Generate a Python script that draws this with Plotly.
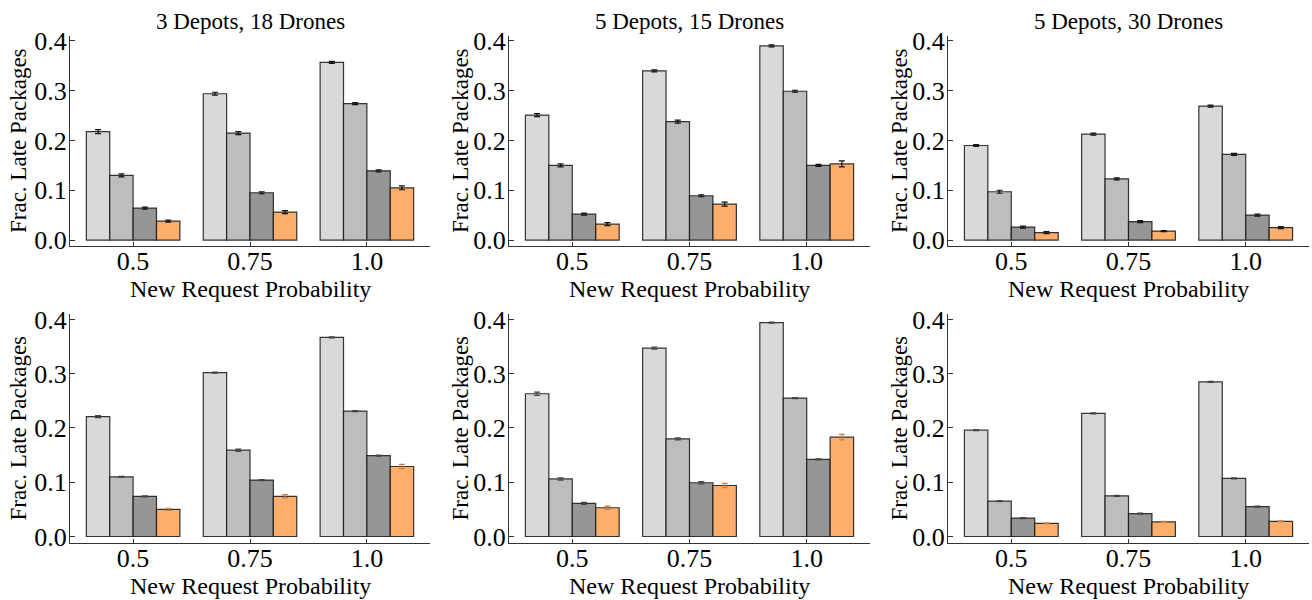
import plotly.graph_objects as go

probs = ["0.5", "0.75", "1.0"]
titles = ["3 Depots, 18 Drones", "5 Depots, 15 Drones", "5 Depots, 30 Drones"]

# panel values: [series][probability]
tl_vals = [[0.218, 0.294, 0.357], [0.130, 0.215, 0.274], [0.064, 0.095, 0.139], [0.038, 0.056, 0.105]]
tl_errs = [[0.004, 0.003, 0.002], [0.003, 0.003, 0.002], [0.002, 0.002, 0.002], [0.002, 0.003, 0.004]]
tm_vals = [[0.251, 0.340, 0.390], [0.150, 0.238, 0.299], [0.052, 0.089, 0.150], [0.032, 0.072, 0.153]]
tm_errs = [[0.003, 0.002, 0.002], [0.003, 0.003, 0.002], [0.002, 0.002, 0.002], [0.003, 0.004, 0.006]]
tr_vals = [[0.190, 0.213, 0.269], [0.097, 0.123, 0.172], [0.026, 0.037, 0.050], [0.015, 0.018, 0.025]]
tr_errs = [[0.002, 0.002, 0.002], [0.003, 0.002, 0.002], [0.002, 0.002, 0.002], [0.002, 0.001, 0.002]]
bl_vals = [[0.221, 0.302, 0.367], [0.110, 0.159, 0.231], [0.074, 0.104, 0.149], [0.050, 0.074, 0.129]]
bl_errs = [[0.002, 0.001, 0.001], [0.001, 0.002, 0.001], [0.001, 0.001, 0.001], [0.002, 0.003, 0.004]]
bm_vals = [[0.263, 0.347, 0.394], [0.106, 0.180, 0.255], [0.061, 0.099, 0.142], [0.053, 0.094, 0.183]]
bm_errs = [[0.003, 0.002, 0.001], [0.002, 0.002, 0.001], [0.002, 0.002, 0.001], [0.003, 0.004, 0.005]]
br_vals = [[0.196, 0.227, 0.285], [0.065, 0.075, 0.107], [0.034, 0.042, 0.055], [0.024, 0.027, 0.028]]
br_errs = [[0.001, 0.001, 0.001], [0.001, 0.001, 0.001], [0.001, 0.001, 0.001], [0.001, 0.001, 0.001]]

colors = ["#d9d9d9", "#bdbdbd", "#969696", "#fdae6b"]
FONT = "Liberation Serif"

panels = [
    (tl_vals, tl_errs, 0, 0), (tm_vals, tm_errs, 0, 1), (tr_vals, tr_errs, 0, 2),
    (bl_vals, bl_errs, 1, 0), (bm_vals, bm_errs, 1, 1), (br_vals, br_errs, 1, 2),
]

W, H = 1312, 600
col_px = [(70, 430), (509, 870), (948, 1309)]
row_px = [(36, 246), (314, 543)]

fig = go.Figure()
layout = {}
for k, (vals, errs, r, c) in enumerate(panels):
    idx = k + 1
    xa = "x" if idx == 1 else f"x{idx}"
    ya = "y" if idx == 1 else f"y{idx}"
    for s in range(4):
        ecol = "#111111" if r == 0 else ("#444444" if s < 3 else "#c8824a")
        fig.add_trace(go.Bar(
            x=[0, 1, 2], y=vals[s],
            error_y=dict(type="data", array=errs[s], color=ecol, thickness=1.2, width=3),
            marker=dict(color=colors[s], line=dict(color="rgba(20,20,20,0.85)", width=1.2)),
            xaxis=xa, yaxis=ya, showlegend=False, name=f"series {s+1}",
        ))
    x0, x1 = col_px[c]
    y0, y1 = row_px[r]
    layout[f"xaxis{idx if idx > 1 else ''}"] = dict(
        domain=[x0 / W, x1 / W], anchor=ya, range=[-0.54, 2.54], automargin=False,
        tickmode="array", tickvals=[0, 1, 2], ticktext=probs,
        ticks="inside", ticklen=4, tickcolor="#333", showline=True, linecolor="#333",
        linewidth=1, showgrid=False, zeroline=False, ticklabelstandoff=-8,
        tickfont=dict(family=FONT, size=26, color="black"),
    )
    layout[f"yaxis{idx if idx > 1 else ''}"] = dict(
        domain=[1 - y1 / H, 1 - y0 / H], anchor=xa, range=[-0.012, 0.41], automargin=False,
        tickmode="array", tickvals=[0, 0.1, 0.2, 0.3, 0.4],
        ticktext=["0.0", "0.1", "0.2", "0.3", "0.4"],
        ticks="inside", ticklen=5, tickcolor="#333", showline=True, linecolor="#333",
        linewidth=1, showgrid=False, zeroline=False, ticklabelstandoff=-3,
        tickfont=dict(family=FONT, size=26, color="black"),
    )

annotations = []
ylab_x = [18, 460, 899]
for c in range(3):
    x0, x1 = col_px[c]
    cx = (x0 + x1) / 2 / W
    annotations.append(dict(text=titles[c], x=cx, y=1 - 21 / H, xref="paper", yref="paper",
                            showarrow=False, font=dict(family=FONT, size=23, color="black"),
                            xanchor="center", yanchor="middle"))
    for r in range(2):
        y0, y1 = row_px[r]
        xl_y = 289 if r == 0 else 586
        annotations.append(dict(text="New Request Probability", x=cx, y=1 - xl_y / H,
                                xref="paper", yref="paper", showarrow=False,
                                font=dict(family=FONT, size=24, color="black"),
                                xanchor="center", yanchor="middle"))
        annotations.append(dict(text="Frac. Late Packages", x=ylab_x[c] / W,
                                y=1 - (y0 + y1) / 2 / H, xref="paper", yref="paper",
                                showarrow=False, textangle=-90,
                                font=dict(family=FONT, size=23, color="black"),
                                xanchor="center", yanchor="middle"))

fig.update_layout(
    width=W, height=H, margin=dict(l=0, r=0, t=0, b=0, autoexpand=False),
    paper_bgcolor="white", plot_bgcolor="white",
    barmode="group", bargap=0.2, bargroupgap=0,
    annotations=annotations, **layout,
)
post = (
    "var de=document.documentElement,b=document.body;"
    "de.style.margin='0';de.style.padding='0';de.style.overflow='hidden';"
    "b.style.margin='0';b.style.padding='0';b.style.overflow='hidden';"
)
fig.write_html("out.html", config={"displayModeBar": False}, post_script=post)
